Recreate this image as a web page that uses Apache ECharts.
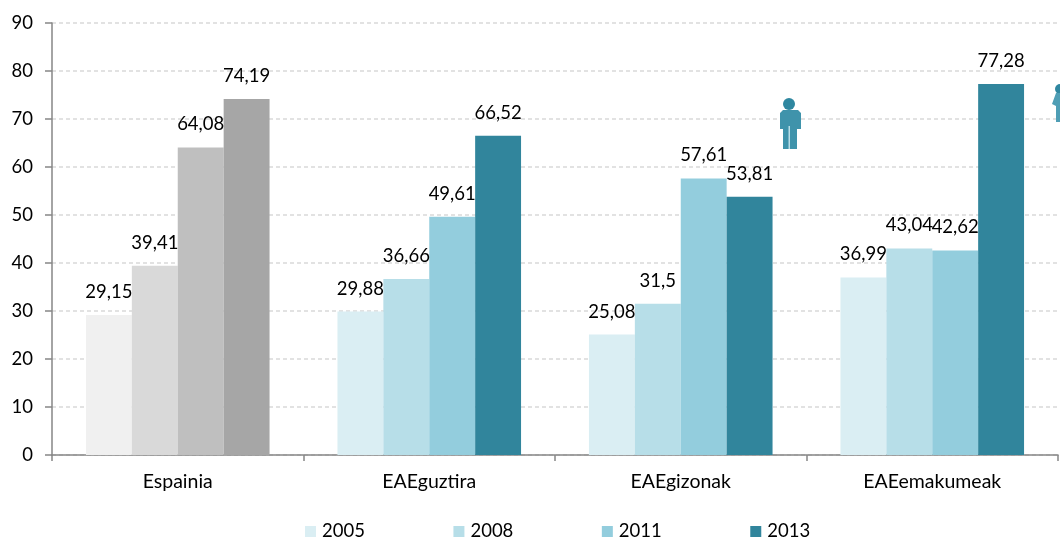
<!DOCTYPE html>
<html><head><meta charset="utf-8">
<style>html,body{margin:0;padding:0;background:#fff}#c{width:1060px;height:538px}</style>
<script src="https://cdn.jsdelivr.net/npm/echarts@6/dist/echarts.min.js"></script>
</head><body><div id="c"></div>
<script>
const categories = ['Espainia','EAEguztira','EAEgizonak','EAEemakumeak'];
const years = ['2005','2008','2011','2013'];
const v2005 = [29.15,29.88,25.08,36.99];
const v2008 = [39.41,36.66,31.5,43.04];
const v2011 = [64.08,49.61,57.61,42.62];
const v2013 = [74.19,66.52,53.81,77.28];
const values = [v2005,v2008,v2011,v2013];
const teal = ['#DAEEF3','#B7DEE8','#93CDDD','#31859C'];
const grey = ['#F0F0F0','#D9D9D9','#BFBFBF','#A6A6A6'];
const font = 'Lato, "Open Sans", sans-serif';
const fs = 18.5;
const chart = echarts.init(document.getElementById('c'), null, {renderer:'canvas'});
chart.setOption({
  animation:false,
  backgroundColor:'#fff',
  grid:{left:52,right:2,top:23,bottom:83,containLabel:false},
  legend:{left:300,top:517,itemWidth:11,itemHeight:11,itemGap:88.5,icon:'rect',
    textStyle:{fontFamily:font,fontSize:fs,color:'#000',padding:[0,0,0,1]},data:years},
  xAxis:{type:'category',data:categories,
    axisLine:{lineStyle:{color:'#868686',width:1.5}},
    axisTick:{show:true,length:6,alignWithLabel:false,lineStyle:{color:'#868686',width:1.5}},
    axisLabel:{fontFamily:font,fontSize:19.5,color:'#000',margin:17}},
  yAxis:{type:'value',min:0,max:90,interval:10,
    axisLine:{show:true,lineStyle:{color:'#868686',width:1.5}},
    axisTick:{show:true,length:7,lineStyle:{color:'#868686',width:1.5}},
    axisLabel:{fontFamily:font,fontSize:fs,color:'#000',margin:19},
    splitLine:{lineStyle:{color:'#D9D9D9',type:[4,3],width:1.5}}},
  series: years.map((y,i)=>({
    name:y,type:'bar',barGap:'0%',barCategoryGap:'27%',
    itemStyle:{color:teal[i]},
    data:values[i].map((val,j)=>j===0?{value:val,itemStyle:{color:grey[i]}}:val),
    label:{show:true,position:'top',distance:13.5,fontFamily:font,fontSize:fs,color:'#000',
      formatter:p=>String(p.value).replace('.',',')},
    labelLayout:{hideOverlap:false}
  })),
  graphic:[
    {type:'circle',shape:{cx:789,cy:104,r:6},style:{fill:'#2F87A0'},z:5},
    {type:'polygon',shape:{points:[[780,113],[783,110],[798,110],[801,113],[801,129],[797,129],[797,149],[783,149],[783,129],[780,129]]},style:{fill:'#3F93AB'},z:5},
    {type:'rect',shape:{x:788.5,y:126,width:1.5,height:23},style:{fill:'#B7DEE8'},z:6},
    {type:'circle',shape:{cx:1060,cy:89,r:5},style:{fill:'#2F87A0'},z:5},
    {type:'polygon',shape:{points:[[1052,104],[1056,93],[1060,93],[1060,122],[1056,122],[1056,106]]},style:{fill:'#4F9EB5'},z:5}
  ]
});
</script></body></html>
